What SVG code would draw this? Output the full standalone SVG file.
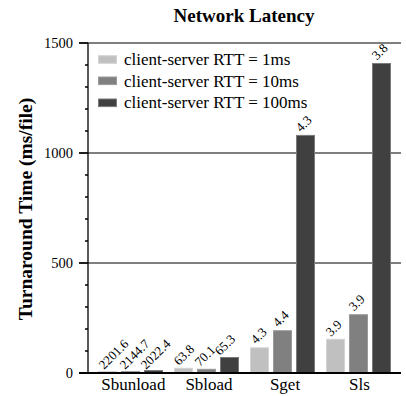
<svg xmlns="http://www.w3.org/2000/svg" width="406" height="396" viewBox="0 0 406 396">
<style>
text{font-family:"Liberation Serif","Times New Roman",serif;fill:#000}
.title{font-size:19px;font-weight:bold;text-anchor:middle}
.ylab{font-size:19.5px;font-weight:bold;text-anchor:middle}
.tick{font-size:14.5px;text-anchor:end}
.xl{font-size:17px;text-anchor:middle}
.leg{font-size:17px}
.val{font-size:13px}
.grid{stroke:#000;stroke-width:1.2}
.axis{stroke:#000;stroke-width:1.3;fill:none}
.c1{fill:#c0c0c0;stroke:#d4d4d4;stroke-width:1}
.c2{fill:#808080;stroke:#9a9a9a;stroke-width:1}
.c3{fill:#404040;stroke:#7a7a7a;stroke-width:1}
</style>
<rect width="406" height="396" fill="#fff"/>
<text class="title" x="244" y="21.7">Network Latency</text>
<text class="ylab" transform="translate(32,209) rotate(-90)">Turnaround Time (ms/file)</text>
<g id="grid">
<line class="grid" x1="79" y1="43" x2="401" y2="43"/>
<line class="grid" x1="79" y1="153" x2="401" y2="153"/>
<line class="grid" x1="79" y1="263" x2="401" y2="263"/>
</g>
<g id="bars">
<g id="Sbunload">
<rect class="c1" x="98.5" y="371.5" width="18" height="1.5"/>
<rect class="c2" x="121.5" y="371.5" width="18" height="1.5"/>
<rect class="c3" x="144.5" y="370.5" width="18" height="2.5"/>
</g>
<g id="Sbload">
<rect class="c1" x="174.5" y="368.3" width="18" height="4.7"/>
<rect class="c2" x="197.5" y="369.3" width="18" height="3.7"/>
<rect class="c3" x="220.5" y="357.5" width="18" height="15.5"/>
</g>
<g id="Sget">
<rect class="c1" x="250.5" y="347.8" width="18" height="25.2"/>
<rect class="c2" x="273.5" y="330.7" width="18" height="42.3"/>
<rect class="c3" x="296.5" y="135.4" width="18" height="237.6"/>
</g>
<g id="Sls">
<rect class="c1" x="326.5" y="339.3" width="18" height="33.7"/>
<rect class="c2" x="349.5" y="314.7" width="18" height="58.3"/>
<rect class="c3" x="372.5" y="63.5" width="18" height="309.5"/>
</g>
</g>
<g id="axes">
<line class="axis" x1="88" y1="43" x2="88" y2="373"/>
<line stroke="#000" stroke-width="2.2" x1="79" y1="373" x2="401" y2="373"/>
<path class="axis" d="M79 43H88M79 153H88M79 263H88M85 65H88M85 87H88M85 109H88M85 131H88M85 175H88M85 197H88M85 219H88M85 241H88M85 285H88M85 307H88M85 329H88M85 351H88"/>
<text class="tick" x="73" y="47.5">1500</text>
<text class="tick" x="73" y="157.5">1000</text>
<text class="tick" x="73" y="267.5">500</text>
<text class="tick" x="73" y="377.5">0</text>
</g>
<g id="xlabels">
<text class="xl" x="133.3" y="390">Sbunload</text>
<text class="xl" x="209" y="390">Sbload</text>
<text class="xl" x="285" y="390">Sget</text>
<text class="xl" x="359.5" y="390">Sls</text>
</g>
<g id="values">
<text class="val" transform="translate(104,370) rotate(-45)">2201.6</text>
<text class="val" transform="translate(125,370) rotate(-45)">2144.7</text>
<text class="val" transform="translate(146,370) rotate(-45)">2022.4</text>
<text class="val" transform="translate(179,366) rotate(-45)">63.8</text>
<text class="val" transform="translate(200,367) rotate(-45)">70.1</text>
<text class="val" transform="translate(220,356) rotate(-45)">65.3</text>
<text class="val" transform="translate(256,344.5) rotate(-45)">4.3</text>
<text class="val" transform="translate(278,327.5) rotate(-45)">4.4</text>
<text class="val" transform="translate(301,132.5) rotate(-45)">4.3</text>
<text class="val" transform="translate(331,337) rotate(-45)">3.9</text>
<text class="val" transform="translate(354,311.5) rotate(-45)">3.9</text>
<text class="val" transform="translate(377,60.5) rotate(-45)">3.8</text>
</g>
<g id="legend">
<rect class="c1" x="98.5" y="55.7" width="18" height="7.6"/>
<text class="leg" x="124" y="65">client-server RTT = 1ms</text>
<rect class="c2" x="98.5" y="77" width="18" height="7.6"/>
<text class="leg" x="124" y="86.5">client-server RTT = 10ms</text>
<rect class="c3" x="98.5" y="99" width="18" height="7.6"/>
<text class="leg" x="124" y="108.3">client-server RTT = 100ms</text>
</g>
</svg>
